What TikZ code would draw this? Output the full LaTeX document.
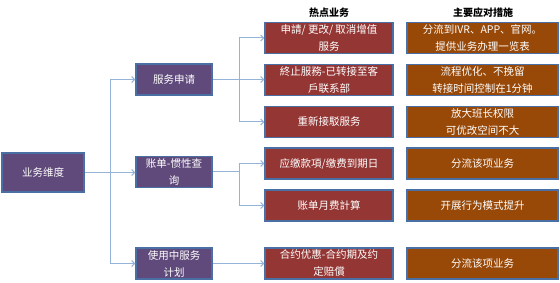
\documentclass[tikz,border=0pt]{standalone}
\usepackage{fontspec}
\newfontfamily\cjk{Noto Sans CJK SC}
\usetikzlibrary{arrows.meta}
\definecolor{purp}{HTML}{604A7B}
\definecolor{redb}{HTML}{943634}
\definecolor{brn}{HTML}{984807}
\definecolor{edge}{HTML}{4A6FA5}
\definecolor{conn}{HTML}{95B3D7}
\tikzset{
  box/.style={draw=edge, line width=1.2pt, text=white, align=center, inner sep=0pt,
    font=\cjk\fontsize{10.5}{17}\selectfont},
  lvone/.style={box, fill=purp, minimum width=82pt, minimum height=39pt},
  lvtwo/.style={box, fill=purp, minimum width=76pt, minimum height=31pt},
  lvthree/.style={box, fill=redb, minimum width=128pt, minimum height=31pt},
  lvfour/.style={box, fill=brn, minimum width=151pt, minimum height=31pt},
  head/.style={font=\cjk\bfseries\fontsize{10}{12}\selectfont, text=black},
  link/.style={draw=conn, line width=1pt, -{Straight Barb[length=3pt,width=6pt]}},
}
\begin{document}
\begin{tikzpicture}[x=1pt,y=-1pt]
\useasboundingbox (0,0) rectangle (560,283);
\node[lvone] (root) at (43,172.5) {业务维度};
\node[lvtwo] (s1) at (174,79.5) {服务申请};
\node[lvtwo] (s2) at (174,172) {账单-惯性查\\询};
\node[lvtwo] (s3) at (174,263.5) {使用中服务\\计划};
\node[head] (h1) at (329,13) {热点业务};
\node[head] (h2) at (483,13) {主要应对措施};
\node[lvthree] (a1) at (329,38) {申請/ 更改/ 取消增值\\服务};
\node[lvthree] (a2) at (329,80) {終止服務-已转接至客\\戶联系部};
\node[lvthree] (a3) at (329,122) {重新接駁服务};
\node[lvthree] (a4) at (329,163.5) {应缴款項/缴费到期日};
\node[lvthree] (a5) at (329,205.5) {账单月费計算};
\node[lvthree] (a6) at (329,263.5) {合约优惠-合约期及约\\定赔償};
\node[lvfour] (b1) at (482.5,38) {分流到IVR、APP、官网。\\提供业务办理一览表};
\node[lvfour] (b2) at (482.5,80) {流程优化、不挽留\\转接时间控制在1分钟};
\node[lvfour] (b3) at (482.5,122) {放大班长权限\\可优改空间不大};
\node[lvfour] (b4) at (482.5,163.5) {分流该项业务};
\node[lvfour] (b5) at (482.5,205.5) {开展行为模式提升};
\node[lvfour] (b6) at (482.5,263.5) {分流该项业务};
\coordinate (j0) at (110,172.5);
\coordinate (j1) at (239,79.5);
\coordinate (j2) at (239,172);
\draw[link] (root.east) -- (j0) |- (s1.west);
\draw[link] (j0) -- (s2.west |- j0);
\draw[link] (j0) |- (s3.west);
\draw[link] (s1.east) -- (j1) |- (a1.west);
\draw[link] (j1) -- (a2.west |- j1);
\draw[link] (j1) |- (a3.west);
\draw[link] (s2.east) -- (j2) |- (a4.west);
\draw[link] (j2) |- (a5.west);
\draw[link] (s3.east) -- (a6.west);
\end{tikzpicture}
\end{document}
